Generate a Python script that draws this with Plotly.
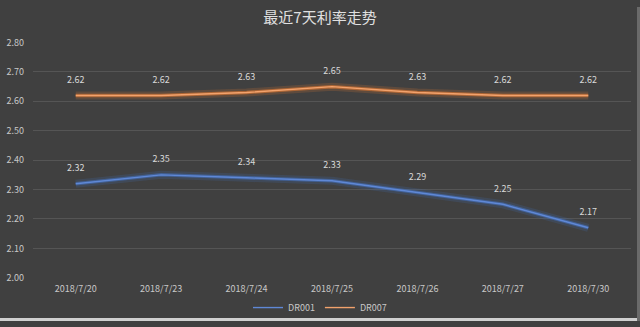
import plotly.graph_objects as go

# Interbank repo rates over the last 7 trading days
dates = ["2018/7/20", "2018/7/23", "2018/7/24", "2018/7/25", "2018/7/26", "2018/7/27", "2018/7/30"]
dr001 = [2.32, 2.35, 2.34, 2.33, 2.29, 2.25, 2.17]
dr007 = [2.62, 2.62, 2.63, 2.65, 2.63, 2.62, 2.62]
y_ticks = [2.00, 2.10, 2.20, 2.30, 2.40, 2.50, 2.60, 2.70, 2.80]

W, H = 640, 327
BG = "#404040"
FONT = "Noto Sans CJK SC, Noto Sans, sans-serif"

series = [
    ("DR001", dr001, "rgba(68,114,196,0.55)", "rgba(68,114,196,0.18)", "#5f88d6"),
    ("DR007", dr007, "rgba(237,125,49,0.55)", "rgba(237,125,49,0.18)", "#f2a26c"),
]

fig = go.Figure()
for name, vals, mid, glow, core in series:
    # soft glow behind each line
    fig.add_trace(go.Scatter(
        x=dates, y=vals, mode="lines", showlegend=False, hoverinfo="skip",
        line=dict(color=glow, width=8),
    ))
    fig.add_trace(go.Scatter(
        x=dates, y=vals, mode="lines", showlegend=False, hoverinfo="skip",
        line=dict(color=mid, width=3.5),
    ))
    fig.add_trace(go.Scatter(
        x=dates, y=vals, mode="lines", name=name,
        line=dict(color=core, width=1.4),
    ))
    # value labels, lifted above the points by an invisible marker
    fig.add_trace(go.Scatter(
        x=dates, y=vals, mode="markers+text", showlegend=False, hoverinfo="skip",
        marker=dict(size=15, opacity=0),
        text=[f"{v:.2f}" for v in vals], textposition="top center",
        textfont=dict(color="#d9d9d9", size=9, family=FONT),
    ))

fig.update_layout(
    width=W, height=H,
    margin=dict(l=0, r=0, t=0, b=0),
    paper_bgcolor=BG, plot_bgcolor=BG,
    font=dict(family=FONT, color="#bfbfbf", size=9),
    title=dict(
        text="最近7天利率走势", x=0.5, xanchor="center",
        y=1 - 18 / H, yanchor="middle",
        font=dict(size=15, color="#e0e0e0", family=FONT),
    ),
    xaxis=dict(
        type="category", domain=[33 / W, 631 / W], range=[-0.5, 6.5],
        showgrid=False, zeroline=False, showline=False, ticks="",
        tickfont=dict(size=9, color="#c8c8c8"), ticklabelstandoff=4,
    ),
    yaxis=dict(
        domain=[(H - 282) / H, (H - 37) / H], range=[2.0, 2.8],
        tickvals=y_ticks, ticktext=[f"{v:.2f}" for v in y_ticks],
        showgrid=True, gridcolor="#555555", gridwidth=1,
        zeroline=False, showline=False, ticks="",
        tickfont=dict(size=9, color="#c8c8c8"), ticklabelstandoff=8,
    ),
    legend=dict(
        orientation="h", x=0.5, xanchor="center", y=(H - 313) / H, yanchor="middle",
        bgcolor="rgba(0,0,0,0)", font=dict(size=9, color="#c8c8c8"),
        itemwidth=30, tracegroupgap=0,
    ),
    showlegend=True,
)

# light frame along the bottom and right edges of the panel
fig.add_shape(type="rect", xref="paper", yref="paper", x0=0, x1=1, y0=0, y1=3 / H,
              fillcolor="#d0d0d0", line_width=0, layer="above")
fig.add_shape(type="rect", xref="paper", yref="paper", x0=1 - 3 / W, x1=1, y0=0, y1=1,
              fillcolor="#6a6a6a", line_width=0, layer="above")

fig.write_html("out.html")
